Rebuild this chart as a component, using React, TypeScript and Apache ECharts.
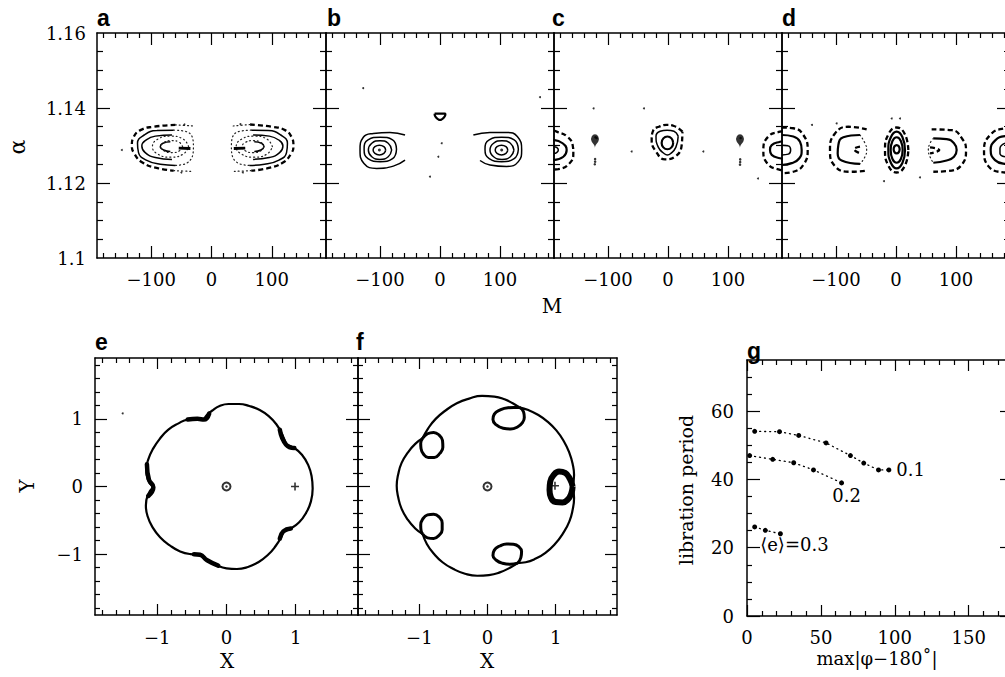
import React, { useEffect, useRef } from "react";
import * as echarts from "echarts";

const SERIF = "'DejaVu Serif', 'Liberation Serif', serif";
const SANS = "'Liberation Sans', Arial, sans-serif";

// ---------- tick values ----------
const M_MAJOR = [-100, 0, 100];
const M_MINOR = [-180, -160, -140, -120, -80, -60, -40, -20, 20, 40, 60, 80, 120, 140, 160, 180];
const ALPHA_LABELS = [1.1, 1.12, 1.14, 1.16];
const ALPHA_MAJOR = [1.12, 1.14];
const ALPHA_MINOR = [1.105, 1.11, 1.115, 1.125, 1.13, 1.135, 1.145, 1.15, 1.155];
const XY_MAJOR = [-1, 0, 1];
const XY_MINOR = [-1.8, -1.6, -1.4, -1.2, -0.8, -0.6, -0.4, -0.2, 0.2, 0.4, 0.6, 0.8, 1.2, 1.4, 1.6, 1.8];
const PHI_MAJOR = [0, 50, 100, 150];
const PHI_MINOR = [10, 20, 30, 40, 60, 70, 80, 90, 110, 120, 130, 140, 160, 170];
const PER_MAJOR = [0, 20, 40, 60];
const PER_MINOR = [5, 10, 15, 25, 30, 35, 45, 50, 55, 65, 70];

// ---------- panel a ----------
const A_L_OUTER = [[-60, 1.1355], [-96, 1.135], [-118, 1.1341], [-129.4, 1.1322], [-132.2, 1.1301], [-128.3, 1.1279], [-113.9, 1.1254], [-87.8, 1.1239], [-62.8, 1.1233]];
const A_L_OUTER_T = [[-60, 1.1355], [-30, 1.1352]];
const A_L_OUTER_B = [[-62.8, 1.1233], [-33, 1.1231]];
const A_L_C2 = [[-62.8, 1.1341], [-90.6, 1.134], [-111.7, 1.1328], [-122.8, 1.1306], [-121.1, 1.1281], [-108.3, 1.1261], [-85, 1.125], [-60, 1.1247]];
const A_L_C2D = [[-62.8, 1.1341], [-40, 1.1336], [-30, 1.1297], [-40, 1.1254], [-60, 1.1247]];
const A_L_C3 = [[-65.6, 1.1328], [-93.3, 1.1325], [-110, 1.1313], [-115.6, 1.1299], [-110, 1.1281], [-93.3, 1.1268], [-65.6, 1.1263]];
const A_L_C4 = [[-68.3, 1.131], [-80.6, 1.1306], [-85, 1.1297], [-79.4, 1.1288], [-68.3, 1.1284]];
const A_L_E1 = [[-38, 1.1297], [-47, 1.1317], [-68, 1.1325], [-89, 1.1317], [-98, 1.1297], [-89, 1.1277], [-68, 1.1269], [-47, 1.1277], [-38, 1.1297]];
const A_L_E2 = [[-48, 1.1297], [-53, 1.1308], [-66, 1.1313], [-79, 1.1308], [-84, 1.1297], [-79, 1.1286], [-66, 1.1281], [-53, 1.1286], [-48, 1.1297]];
const A_L_BAR = [[-54.4, 1.1293], [-35, 1.1292]];
const A_R_OUTER = [[64, 1.1356], [100, 1.135], [122, 1.1341], [133, 1.1322], [136, 1.13], [132, 1.1278], [118, 1.1254], [92, 1.1239], [66, 1.1233]];
const A_R_OUTER_T = [[64, 1.1356], [36, 1.1352]];
const A_R_OUTER_B = [[66, 1.1233], [38, 1.1231]];
const A_R_C2 = [[66, 1.1341], [94, 1.134], [115, 1.1328], [126, 1.1306], [124.5, 1.1281], [112, 1.1261], [88, 1.125], [63, 1.1247]];
const A_R_C2D = [[66, 1.1341], [43, 1.1336], [33, 1.1297], [43, 1.1254], [63, 1.1247]];
const A_R_C3 = [[69, 1.1328], [96, 1.1325], [113, 1.1313], [118.5, 1.1299], [113, 1.1281], [96, 1.1268], [69, 1.1263]];
const A_R_C4 = [[71, 1.131], [83, 1.1306], [87, 1.1297], [82, 1.1288], [71, 1.1284]];
const A_R_E1 = [[101, 1.1297], [92, 1.1317], [71, 1.1325], [50, 1.1317], [41, 1.1297], [50, 1.1277], [71, 1.1269], [92, 1.1277], [101, 1.1297]];
const A_R_E2 = [[87, 1.1297], [82, 1.1308], [69, 1.1313], [56, 1.1308], [51, 1.1297], [56, 1.1286], [69, 1.1281], [82, 1.1286], [87, 1.1297]];
const A_R_BAR = [[37, 1.1292], [56, 1.1293]];
const A_DOTS = [[-148.8, 1.1288], [-45, 1.1356], [-50, 1.1228], [48, 1.1357], [52, 1.1228]];

// ---------- panel b ----------
const B_L_R1 = [[-90.5, 1.1288], [-93.5, 1.1297], [-101, 1.1301], [-108.5, 1.1297], [-111.5, 1.1288], [-108.5, 1.1279], [-101, 1.1275], [-93.5, 1.1279], [-90.5, 1.1288]];
const B_L_R2 = [[-80.6, 1.1288], [-86.3, 1.1306], [-100, 1.1313], [-113.7, 1.1306], [-119.4, 1.1288], [-113.7, 1.127], [-100, 1.1263], [-86.3, 1.127], [-80.6, 1.1288]];
const B_L_R3 = [[-72.5, 1.129], [-79, 1.1315], [-99.5, 1.1322], [-120, 1.1315], [-126.5, 1.129], [-120, 1.1265], [-99.5, 1.1257], [-79, 1.1265], [-72.5, 1.129]];
const B_L_OUT = [[-58.3, 1.1328], [-83.3, 1.1335], [-111.1, 1.1332], [-127.8, 1.1322], [-133.3, 1.1288], [-126.7, 1.1252], [-105.6, 1.1239], [-77.8, 1.1245], [-58.3, 1.1261]];
const B_R_R1 = [[113, 1.1288], [110, 1.1297], [102.5, 1.1301], [95, 1.1297], [92, 1.1288], [95, 1.1279], [102.5, 1.1275], [110, 1.1279], [113, 1.1288]];
const B_R_R2 = [[123.3, 1.1288], [117.3, 1.1306], [103.3, 1.1313], [89.3, 1.1306], [83.3, 1.1288], [89.3, 1.127], [103.3, 1.1263], [117.3, 1.127], [123.3, 1.1288]];
const B_R_R3 = [[130.6, 1.129], [123.6, 1.1315], [102.8, 1.1322], [82, 1.1315], [75, 1.129], [82, 1.1265], [102.8, 1.1257], [123.6, 1.1265], [130.6, 1.129]];
const B_R_OUT = [[55.6, 1.1328], [83.3, 1.1335], [111.1, 1.1335], [128.9, 1.1324], [136.1, 1.1288], [130.6, 1.1257], [111.1, 1.1244], [83.3, 1.1248], [66.7, 1.126]];
const B_CAP = [[-9, 1.1385], [9, 1.1385], [8, 1.1378], [3, 1.137], [0, 1.1368], [-3, 1.137], [-8, 1.1378], [-9, 1.1385]];
const B_CENTERS = [[-101, 1.1288], [102.8, 1.1288]];
const B_DOTS = [[2.8, 1.1306], [-2.8, 1.127], [-16.7, 1.1217], [-128, 1.1453], [166.7, 1.1429]];

// ---------- panel c ----------
const C_L_OUT = [[-190, 1.134], [-185.6, 1.1337], [-168.9, 1.1325], [-158.9, 1.1301], [-157.8, 1.1279], [-164.4, 1.1252], [-182.8, 1.1237], [-190, 1.1236]];
const C_L_MID = [[-191, 1.1315], [-175.6, 1.1306], [-168.9, 1.1288], [-174.4, 1.127], [-191, 1.1261]];
const C_L_IN = [[-190, 1.1297], [-185.6, 1.1295], [-182.8, 1.1288], [-185.6, 1.1281], [-190, 1.1279]];
const C_M_IN = [[8.6, 1.1307], [5.8, 1.1319], [-1, 1.1324], [-7.8, 1.1319], [-10.6, 1.1307], [-7.8, 1.1295], [-1, 1.129], [5.8, 1.1295], [8.6, 1.1307]];
const C_M_MID = [[17, 1.1325], [10, 1.1338], [-1.5, 1.1341], [-13, 1.1338], [-20, 1.1325], [-16, 1.1295], [-6, 1.1278], [-1, 1.1275], [4, 1.1278], [13, 1.1295], [17, 1.1325]];
const C_M_OUT = [[24, 1.1337], [10, 1.1352], [-2.2, 1.1355], [-15, 1.135], [-24.4, 1.1341], [-27.2, 1.1315], [-20, 1.1284], [-5, 1.1263], [11.7, 1.127], [22.8, 1.1301], [24, 1.1337]];
const C_R_OUT = [[191, 1.1338], [186.7, 1.1337], [167.2, 1.1324], [158.9, 1.1288], [165.6, 1.1252], [186.7, 1.1235], [191, 1.1234]];
const C_R_MID = [[191, 1.1311], [186.7, 1.131], [172.8, 1.1301], [170, 1.1288], [172.8, 1.1275], [186.7, 1.1266], [191, 1.1265]];
const C_BLOBS = [[-121.7, 1.1293], [120, 1.1293]];
const C_TAILS = [[-121.5, 1.1264], [-121.5, 1.1257], [-122, 1.125], [-121, 1.1322], [-119, 1.132], [120.3, 1.1263], [120.3, 1.1256], [120, 1.1249], [121, 1.132]];
const C_DOTS = [[-60.6, 1.1284], [58.9, 1.1284], [-124, 1.1399], [-40, 1.1399], [150, 1.1212]];

// ---------- panel d ----------
const D_L_OUT = [[-190, 1.1348], [-171.1, 1.1346], [-154.4, 1.1328], [-147.2, 1.1288], [-153.3, 1.1251], [-171.1, 1.123], [-190, 1.1226]];
const D_L_MID = [[-190, 1.1328], [-171.1, 1.1324], [-160, 1.131], [-157.2, 1.1288], [-161.1, 1.1266], [-173.9, 1.1253], [-190, 1.1248]];
const D_L_IN = [[-190, 1.1301], [-179.4, 1.1299], [-175.6, 1.1288], [-179.4, 1.1277], [-190, 1.1275]];
const D_2_OUT = [[-48.9, 1.1343], [-79.4, 1.135], [-101.7, 1.1332], [-110, 1.1288], [-101.7, 1.1245], [-76.7, 1.123], [-48.9, 1.1233]];
const D_2_MID = [[-60, 1.1328], [-87.8, 1.1322], [-96.1, 1.1301], [-97.2, 1.1279], [-90.6, 1.126], [-60, 1.1251]];
const D_2_DOT = [[-60, 1.1328], [-51.7, 1.1306], [-48.9, 1.1288], [-51.7, 1.127], [-60, 1.1251]];
const D_2_IN = [[-60, 1.1297], [-70, 1.129], [-60, 1.1279]];
const D_M_OUT = [[20.5, 1.1288], [14.8, 1.133], [1.1, 1.1348], [-12.6, 1.133], [-18.3, 1.1288], [-12.6, 1.1246], [1.1, 1.1228], [14.8, 1.1246], [20.5, 1.1288]];
const D_M_R2 = [[15, 1.1288], [10.8, 1.1322], [1.1, 1.1337], [-8.6, 1.1322], [-12.8, 1.1288], [-8.6, 1.1254], [1.1, 1.1239], [10.8, 1.1254], [15, 1.1288]];
const D_M_R3 = [[11.1, 1.1288], [8.1, 1.1312], [1.1, 1.1322], [-5.9, 1.1312], [-8.9, 1.1288], [-5.9, 1.1264], [1.1, 1.1254], [8.1, 1.1264], [11.1, 1.1288]];
const D_M_IN = [[6.1, 1.129], [4.6, 1.1298], [1.1, 1.1301], [-2.4, 1.1298], [-3.9, 1.129], [-2.4, 1.1282], [1.1, 1.1279], [4.6, 1.1282], [6.1, 1.129]];
const D_4_OUT = [[59.4, 1.1343], [92.8, 1.1341], [111.1, 1.1316], [116.7, 1.1288], [111.1, 1.1252], [87.2, 1.1232], [62.2, 1.123]];
const D_4_MID = [[62.2, 1.1319], [84.4, 1.1317], [96.7, 1.1306], [101.1, 1.1288], [96.7, 1.127], [84.4, 1.126], [62.2, 1.1254]];
const D_4_DOT = [[62.2, 1.1319], [56.7, 1.1306], [53.9, 1.1288], [56.7, 1.127], [62.2, 1.1254]];
const D_4_IN = [[56.7, 1.1295], [72.2, 1.1288], [56.7, 1.1279]];
const D_5_OUT = [[192, 1.1348], [181.7, 1.1346], [159.4, 1.1332], [146.7, 1.1288], [153.9, 1.1245], [181.7, 1.1228], [192, 1.1227]];
const D_5_MID = [[192, 1.1326], [181.7, 1.1325], [165, 1.1313], [157.8, 1.1288], [165, 1.1261], [181.7, 1.1251], [192, 1.125]];
const D_5_IN = [[181.7, 1.1306], [173.3, 1.1292], [173.3, 1.1279], [181.7, 1.127]];
const D_DOTS = [[-7.2, 1.1372], [6.7, 1.1372], [-98.9, 1.1359], [-140, 1.1355], [40, 1.1215], [-20, 1.1205]];

// ---------- panel e (5 scallops between inward cusps) ----------
const E_ARC1 = [[0.86, 0.62], [0.8, 0.78], [0.72, 0.92], [0.61, 1.04], [0.48, 1.13], [0.33, 1.19], [0.18, 1.22], [0.03, 1.22], [-0.1, 1.19], [-0.21, 1.12], [-0.29, 1.05], [-0.325, 0.989]];
const E_ARC2 = [[-0.325, 0.989], [-0.42, 1.0], [-0.56, 0.99], [-0.7, 0.93], [-0.84, 0.84], [-0.96, 0.71], [-1.06, 0.56], [-1.13, 0.4], [-1.16, 0.25], [-1.14, 0.11], [-1.057, -0.01]];
const E_ARC3 = [[-1.057, -0.01], [-1.14, -0.13], [-1.165, -0.28], [-1.14, -0.44], [-1.07, -0.6], [-0.96, -0.75], [-0.82, -0.87], [-0.67, -0.96], [-0.52, -1.0], [-0.383, -1.009]];
const E_ARC4 = [[-0.383, -1.009], [-0.28, -1.09], [-0.15, -1.16], [0.0, -1.21], [0.15, -1.22], [0.31, -1.19], [0.46, -1.12], [0.6, -1.01], [0.71, -0.88], [0.79, -0.75], [0.821, -0.663]];
const E_ARC5 = [[0.821, -0.663], [0.93, -0.62], [1.05, -0.53], [1.15, -0.39], [1.22, -0.22], [1.245, -0.03], [1.23, 0.15], [1.18, 0.32], [1.09, 0.47], [0.98, 0.57], [0.86, 0.62]];
const E_BAND1 = [[-0.56, 0.99], [-0.42, 1.0], [-0.325, 0.989], [-0.25, 1.08]];
const E_BAND2 = [[0.77, 0.84], [0.86, 0.62], [0.98, 0.57]];
const E_BAND3 = [[-1.15, 0.33], [-1.12, 0.1], [-1.057, -0.01], [-1.13, -0.14]];
const E_BAND4 = [[0.93, -0.62], [0.821, -0.663], [0.77, -0.77]];
const E_BAND5 = [[-0.47, -1.0], [-0.383, -1.009], [-0.28, -1.09], [-0.12, -1.17]];
const E_DOTS = [[-1.5, 1.08]];

// ---------- panel f (big circle with five inner loops) ----------
const F_ARC1 = [[-0.951, 0.713], [-0.87, 0.86], [-0.76, 1.0], [-0.62, 1.12], [-0.45, 1.23], [-0.27, 1.3], [-0.08, 1.34], [0.1, 1.33], [0.25, 1.29], [0.37, 1.23], [0.467, 1.171]];
const F_ARC2 = [[0.467, 1.171], [0.6, 1.13], [0.74, 1.06], [0.88, 0.96], [1.01, 0.83], [1.12, 0.67], [1.2, 0.5], [1.25, 0.33], [1.27, 0.17], [1.249, 0.002]];
const F_ARC3 = [[1.249, 0.002], [1.27, -0.17], [1.25, -0.34], [1.2, -0.52], [1.11, -0.69], [0.99, -0.85], [0.85, -0.98], [0.7, -1.07], [0.56, -1.12], [0.442, -1.132]];
const F_ARC4 = [[0.442, -1.132], [0.33, -1.2], [0.18, -1.27], [0.02, -1.31], [-0.15, -1.32], [-0.33, -1.29], [-0.5, -1.22], [-0.66, -1.12], [-0.79, -0.99], [-0.89, -0.85], [-0.951, -0.703]];
const F_ARC5 = [[-0.951, -0.703], [-1.06, -0.62], [-1.17, -0.49], [-1.26, -0.33], [-1.31, -0.16], [-1.332, 0.01], [-1.31, 0.18], [-1.26, 0.35], [-1.17, 0.5], [-1.06, 0.63], [-0.951, 0.713]];
const F_LOOP_TR = [[0.467, 1.171], [0.53, 1.1], [0.54, 1.02], [0.51, 0.94], [0.44, 0.88], [0.34, 0.85], [0.23, 0.86], [0.13, 0.91], [0.08, 0.99], [0.1, 1.07], [0.18, 1.13], [0.3, 1.165], [0.467, 1.171]];
const F_LOOP_R = [[1.249, 0.002], [1.23, -0.1], [1.18, -0.19], [1.1, -0.235], [1.0, -0.23], [0.93, -0.16], [0.91, -0.05], [0.92, 0.07], [0.97, 0.17], [1.05, 0.22], [1.14, 0.2], [1.21, 0.11], [1.249, 0.002]];
const F_LOOP_B = [[0.442, -1.132], [0.49, -1.05], [0.5, -0.96], [0.46, -0.89], [0.38, -0.855], [0.28, -0.85], [0.18, -0.88], [0.1, -0.94], [0.08, -1.02], [0.13, -1.09], [0.22, -1.135], [0.33, -1.15], [0.442, -1.132]];
const F_LOOP_LB = [[-0.951, -0.703], [-0.88, -0.76], [-0.79, -0.77], [-0.71, -0.72], [-0.665, -0.64], [-0.665, -0.54], [-0.71, -0.45], [-0.79, -0.41], [-0.88, -0.42], [-0.95, -0.48], [-0.98, -0.57], [-0.975, -0.65], [-0.951, -0.703]];
const F_LOOP_LT = [[-0.951, 0.713], [-0.98, 0.64], [-0.975, 0.56], [-0.94, 0.48], [-0.87, 0.43], [-0.78, 0.43], [-0.7, 0.49], [-0.655, 0.58], [-0.66, 0.68], [-0.71, 0.76], [-0.79, 0.8], [-0.88, 0.78], [-0.951, 0.713]];

// ---------- centres and planet markers (e, f) ----------
const SUN = [[0, 0]];
const PLANET_E = [[0.99, 0]];
const PLANET_F = [[0.99, 0.01]];

// ---------- panel g ----------
const G_E01 = [[5.2, 54.1], [22, 54], [35, 52.9], [53.5, 50.7], [70, 47], [79, 44.8], [89, 42.8], [96, 42.8]];
const G_E02 = [[1.8, 47], [17.4, 45.9], [31.6, 44.9], [45, 42.8], [64, 39]];
const G_E03 = [[5.2, 26.1], [12.4, 25.1], [22.6, 24.1]];
const G_LABELS = ["0.1", "0.2", "\u27E8e\u27E9=0.3"];

// ---------- layout ----------
const minus = (v: number) => (v < 0 ? "\u2212" + Math.abs(v) : String(v));
const TOPROW = {
  top: 33, height: 225, xMin: -190, xMax: 190, yMin: 1.1, yMax: 1.16,
  xMajor: M_MAJOR, xMinor: M_MINOR, yMajor: ALPHA_MAJOR, yMinor: ALPHA_MINOR,
  xLab: M_MAJOR, yLab: ALPHA_LABELS, xFmt: minus, yFmt: (v: number) => String(Number(v.toFixed(3))),
  xMajorLen: 12, xMinorLen: 5, yMajorLen: 13, yMinorLen: 6, xMargin: 12, yMargin: 11, showX: true,
};
const XYROW = {
  top: 358, height: 257, xMin: -1.9, xMax: 1.9, yMin: -1.9, yMax: 1.9,
  xMajor: XY_MAJOR, xMinor: XY_MINOR, yMajor: XY_MAJOR, yMinor: XY_MINOR,
  xLab: XY_MAJOR, yLab: XY_MAJOR, xFmt: minus, yFmt: minus,
  xMajorLen: 11, xMinorLen: 5, yMajorLen: 12, yMinorLen: 5, xMargin: 13, yMargin: 12, showX: true,
};
const PANELS: any[] = [
  { ...TOPROW, left: 97, width: 229, showY: true },
  { ...TOPROW, left: 326, width: 228, showY: false },
  { ...TOPROW, left: 554, width: 228, showY: false },
  { ...TOPROW, left: 782, width: 228, showY: false },
  { ...XYROW, left: 95, width: 263, showY: true },
  { ...XYROW, left: 358, width: 259, showY: false },
  {
    top: 360, height: 256, left: 747, width: 266, xMin: 0, xMax: 180, yMin: 0, yMax: 75,
    xMajor: PHI_MAJOR, xMinor: PHI_MINOR, yMajor: PER_MAJOR, yMinor: PER_MINOR,
    xLab: PHI_MAJOR, yLab: PER_MAJOR, xFmt: minus, yFmt: minus,
    xMajorLen: 11, xMinorLen: 5, yMajorLen: 13, yMinorLen: 5, xMargin: 12, yMargin: 13, showX: true, showY: true,
  },
];

const STY: Record<string, any> = {
  solid: { color: "#000", width: 1.5, type: "solid" },
  thick: { color: "#000", width: 2.2, type: "solid" },
  dashed: { color: "#000", width: 2.3, type: [5, 3] },
  dotted: { color: "#222", width: 1.2, type: [1, 3], cap: "round" },
  bar: { color: "#000", width: 3, type: "solid" },
  band: { color: "#000", width: 4.5, type: "solid", cap: "round" },
  loop: { color: "#000", width: 3, type: "solid" },
  heavyloop: { color: "#000", width: 6, type: "solid" },
};

function buildAxes() {
  const xs: any[] = [];
  const ys: any[] = [];
  const tickStyle = { color: "#000", width: 1.2 };
  const lineOn = { show: true, onZero: false, lineStyle: { color: "#000", width: 1.5 } };
  const lineOff = { show: false, onZero: false };
  const lab = { color: "#000", fontFamily: SERIF, fontSize: 18 };
  PANELS.forEach((p, gi) => {
    const mk = (dim: "x" | "y", pos: string, major: boolean, label: boolean) => ({
      type: "value",
      gridIndex: gi,
      position: pos,
      min: dim === "x" ? p.xMin : p.yMin,
      max: dim === "x" ? p.xMax : p.yMax,
      axisLine: major ? lineOn : lineOff,
      axisTick: {
        show: true,
        inside: true,
        length: dim === "x" ? (major ? p.xMajorLen : p.xMinorLen) : major ? p.yMajorLen : p.yMinorLen,
        customValues: dim === "x" ? (major ? p.xMajor : p.xMinor) : major ? p.yMajor : p.yMinor,
        lineStyle: tickStyle,
      },
      axisLabel: label
        ? {
            show: true,
            customValues: dim === "x" ? p.xLab : p.yLab,
            formatter: dim === "x" ? p.xFmt : p.yFmt,
            margin: dim === "x" ? p.xMargin : p.yMargin,
            ...lab,
          }
        : { show: false },
      splitLine: { show: false },
      minorTick: { show: false },
      axisPointer: { show: false },
    });
    xs.push(mk("x", "bottom", true, p.showX), mk("x", "bottom", false, false), mk("x", "top", true, false), mk("x", "top", false, false));
    ys.push(mk("y", "left", true, p.showY), mk("y", "left", false, false), mk("y", "right", true, false), mk("y", "right", false, false));
  });
  return { xs, ys };
}

function curve(gi: number, data: number[][], sty: string, smooth: boolean | number = true) {
  return {
    type: "line",
    xAxisIndex: gi * 4,
    yAxisIndex: gi * 4,
    data,
    smooth,
    symbol: "none",
    showSymbol: false,
    lineStyle: STY[sty],
    silent: true,
    z: 3,
  };
}
function dots(gi: number, data: number[][], size: number | number[], symbol = "circle", extra: any = {}) {
  return {
    type: "scatter",
    xAxisIndex: gi * 4,
    yAxisIndex: gi * 4,
    data,
    symbol,
    symbolSize: size,
    itemStyle: { color: "#000" },
    silent: true,
    z: 4,
    ...extra,
  };
}

const PLUS = "path://M4,0h2v4h4v2h-4v4h-2v-4h-4v-2h4z";

function buildSeries() {
  const s: any[] = [];
  // a
  [
    [A_L_OUTER, "dashed"], [A_L_OUTER_T, "dotted"], [A_L_OUTER_B, "dotted"], [A_L_C2, "solid"], [A_L_C2D, "dotted"],
    [A_L_C3, "solid"], [A_L_C4, "solid"], [A_L_E1, "dotted"], [A_L_E2, "dotted"], [A_L_BAR, "bar"],
    [A_R_OUTER, "dashed"], [A_R_OUTER_T, "dotted"], [A_R_OUTER_B, "dotted"], [A_R_C2, "solid"], [A_R_C2D, "dotted"],
    [A_R_C3, "solid"], [A_R_C4, "solid"], [A_R_E1, "dotted"], [A_R_E2, "dotted"], [A_R_BAR, "bar"],
  ].forEach(([d, st]: any) => s.push(curve(0, d, st)));
  s.push(dots(0, A_DOTS, 2));
  // b
  [
    [B_L_R1, "solid"], [B_L_R2, "solid"], [B_L_R3, "solid"], [B_L_OUT, "solid"],
    [B_R_R1, "solid"], [B_R_R2, "solid"], [B_R_R3, "solid"], [B_R_OUT, "solid"], [B_CAP, "thick"],
  ].forEach(([d, st]: any) => s.push(curve(1, d, st)));
  s.push(dots(1, B_CENTERS, 3));
  s.push(dots(1, B_DOTS, 2));
  // c
  [
    [C_L_OUT, "dashed"], [C_L_MID, "thick"], [C_L_IN, "solid"], [C_M_IN, "thick"], [C_M_MID, "solid"],
    [C_M_OUT, "dashed"], [C_R_OUT, "dashed"], [C_R_MID, "thick"],
  ].forEach(([d, st]: any) => s.push(curve(2, d, st)));
  s.push(dots(2, C_BLOBS, [13, 16], "pin"));
  s.push(dots(2, C_TAILS, 2.5));
  s.push(dots(2, C_DOTS, 2));
  // d
  [
    [D_L_OUT, "dashed"], [D_L_MID, "thick"], [D_L_IN, "solid"],
    [D_2_OUT, "dashed"], [D_2_MID, "thick"], [D_2_DOT, "dotted"], [D_2_IN, "dashed"],
    [D_M_OUT, "dashed"], [D_M_R2, "thick"], [D_M_R3, "thick"], [D_M_IN, "thick"],
    [D_4_OUT, "dashed"], [D_4_MID, "thick"], [D_4_DOT, "dotted"], [D_4_IN, "dashed"],
    [D_5_OUT, "dashed"], [D_5_MID, "thick"], [D_5_IN, "solid"],
  ].forEach(([d, st]: any) => s.push(curve(3, d, st)));
  s.push(dots(3, D_DOTS, 2));
  // e
  [E_ARC1, E_ARC2, E_ARC3, E_ARC4, E_ARC5].forEach((d) => s.push(curve(4, d, "thick")));
  [E_BAND1, E_BAND2, E_BAND3, E_BAND4, E_BAND5].forEach((d) => s.push(curve(4, d, "band")));
  s.push(dots(4, E_DOTS, 2));
  // f
  [F_ARC1, F_ARC2, F_ARC3, F_ARC4, F_ARC5].forEach((d) => s.push(curve(5, d, "thick")));
  [F_LOOP_TR, F_LOOP_B, F_LOOP_LB, F_LOOP_LT].forEach((d) => s.push(curve(5, d, "loop")));
  s.push(curve(5, F_LOOP_R, "heavyloop"));
  // suns and planets
  [4, 5].forEach((gi) => {
    s.push(dots(gi, SUN, 8, "emptyCircle", { itemStyle: { color: "#000", borderColor: "#000", borderWidth: 1.3 } }));
    s.push(dots(gi, SUN, 2.5));
  });
  s.push(dots(4, PLANET_E, 8, PLUS));
  s.push(dots(5, PLANET_F, 8, PLUS));
  // g
  const gLine = (data: number[][], labelIdx: number, label: any) => ({
    type: "line",
    xAxisIndex: 24,
    yAxisIndex: 24,
    data: data.map((v, i) => (i === labelIdx ? { value: v, label } : { value: v })),
    symbol: "circle",
    symbolSize: 5,
    showSymbol: true,
    itemStyle: { color: "#000" },
    lineStyle: { color: "#000", width: 1.3, type: [1, 4], cap: "round" },
    silent: true,
    z: 4,
  });
  const lab = { show: true, color: "#000", fontFamily: SERIF, fontSize: 18 };
  s.push(gLine(G_E01, G_E01.length - 1, { ...lab, formatter: G_LABELS[0], position: "right", distance: 5 }));
  s.push(gLine(G_E02, G_E02.length - 1, { ...lab, formatter: G_LABELS[1], position: "bottom", distance: 1, offset: [5, 0] }));
  s.push(gLine(G_E03, 0, { ...lab, formatter: G_LABELS[2], position: [8, 11], align: "left", verticalAlign: "top" }));
  return s;
}

function buildGraphic() {
  const letter = (t: string, x: number, y: number) => ({
    type: "text", x, y, silent: true,
    style: { text: t, fill: "#000", fontSize: 23, fontWeight: "bold", fontFamily: SANS, align: "left", verticalAlign: "bottom" },
  });
  const name = (t: string, x: number, y: number, rot = 0, size = 19) => ({
    type: "text", x, y, rotation: rot, silent: true,
    style: { text: t, fill: "#000", fontSize: size, fontFamily: SERIF, align: "center", verticalAlign: "middle" },
  });
  return [
    letter("a", 97, 29), letter("b", 327, 29), letter("c", 552, 29), letter("d", 782, 29),
    letter("e", 95, 353), letter("f", 356, 353), letter("g", 747, 362),
    name("\u03B1", 17, 147, Math.PI / 2, 22),
    name("M", 552, 306, 0, 20),
    name("Y", 27, 486, Math.PI / 2, 20),
    name("X", 227, 661, 0, 20),
    name("X", 487, 661, 0, 20),
    name("libration period", 686, 490, Math.PI / 2),
    name("max|\u03C6\u2212180\u02DA|", 877, 658, 0, 18),
  ];
}

export default function App() {
  const ref = useRef<HTMLDivElement>(null);
  useEffect(() => {
    document.body.style.margin = "0";
    document.body.style.overflow = "hidden";
    const chart = echarts.init(ref.current as HTMLDivElement, null, { renderer: "svg" });
    const { xs, ys } = buildAxes();
    chart.setOption({
      animation: false,
      backgroundColor: "#fff",
      grid: PANELS.map((p) => ({
        left: p.left, top: p.top, width: p.width, height: p.height,
        containLabel: false, outerBoundsMode: "none",
      })),
      xAxis: xs,
      yAxis: ys,
      series: buildSeries(),
      graphic: buildGraphic(),
    });
    return () => chart.dispose();
  }, []);
  return <div ref={ref} style={{ width: 1005, height: 677, background: "#fff" }} />;
}
